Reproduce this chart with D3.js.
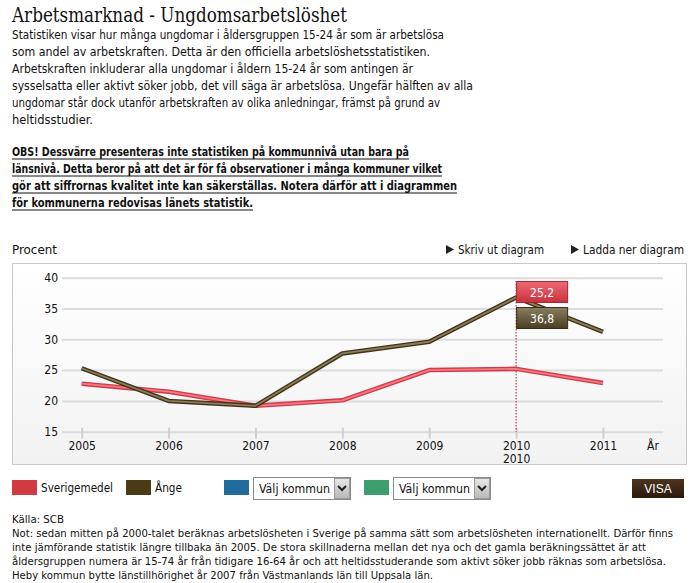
<!DOCTYPE html>
<html><head><meta charset="utf-8">
<script src="https://cdn.jsdelivr.net/npm/d3@7"></script>
<style>
html,body{margin:0;padding:0;background:#fff;}
svg{display:block;}
</style></head>
<body>
<script>
const years = [2005, 2006, 2007, 2008, 2009, 2010, 2011];
const sverigemedel = [22.8, 21.5, 19.2, 20.1, 25.0, 25.2, 22.9];
const ange = [25.3, 20.0, 19.2, 27.7, 29.6, 36.8, 31.2];
const yTicks = [15, 20, 25, 30, 35, 40];
const seriesNames = ["Sverigemedel", "Ånge"];
const selectedYear = 2010;

const title = "Arbetsmarknad - Ungdomsarbetslöshet";
const intro = [
  ["Statistiken visar hur många ungdomar i åldersgruppen 15-24 år som är arbetslösa", 432],
  ["som andel av arbetskraften. Detta är den officiella arbetslöshetsstatistiken.", 418],
  ["Arbetskraften inkluderar alla ungdomar i åldern 15-24 år som antingen är", 401],
  ["sysselsatta eller aktivt söker jobb, det vill säga är arbetslösa. Ungefär hälften av alla", 461],
  ["ungdomar står dock utanför arbetskraften av olika anledningar, främst på grund av", 428],
  ["heltidsstudier.", 81]
];
const obs = [
  ["OBS! Dessvärre presenteras inte statistiken på kommunnivå utan bara på", 397],
  ["länsnivå. Detta beror på att det är för få observationer i många kommuner vilket", 430],
  ["gör att siffrornas kvalitet inte kan säkerställas. Notera därför att i diagrammen", 445],
  ["för kommunerna redovisas länets statistik.", 241]
];
const footer = [
  ["Källa: SCB", 52],
  ["Not: sedan mitten på 2000-talet beräknas arbetslösheten i Sverige på samma sätt som arbetslösheten internationellt. Därför finns", 661],
  ["inte jämförande statistik längre tillbaka än 2005. De stora skillnaderna mellan det nya och det gamla beräkningssättet är att", 634],
  ["åldersgruppen numera är 15-74 år från tidigare 16-64 år och att heltidsstuderande som aktivt söker jobb räknas som arbetslösa.", 654],
  ["Heby kommun bytte länstillhörighet år 2007 från Västmanlands län till Uppsala län.", 421]
];

const W = 699, H = 583;
const svg = d3.select("body").append("svg").attr("width", W).attr("height", H);
const defs = svg.append("defs");
const bodyFont = "'DejaVu Sans Condensed','DejaVu Sans',sans-serif";

function grad(id, c1, c2) {
  const g = defs.append("linearGradient").attr("id", id).attr("x1", 0).attr("y1", 0).attr("x2", 0).attr("y2", 1);
  g.append("stop").attr("offset", "0%").attr("stop-color", c1);
  g.append("stop").attr("offset", "100%").attr("stop-color", c2);
}
grad("bgGrad", "#ffffff", "#f2f2f2");
grad("redGrad", "#ec6a74", "#c8323d");
grad("brownGrad", "#8a7e60", "#4a3d20");
grad("visaGrad", "#4c3420", "#2a1a0c");
grad("btnGrad", "#e8e8e8", "#b8b8b8");

// Title
svg.append("text").attr("x", 12).attr("y", 22)
  .attr("font-family", "'DejaVu Serif','Liberation Serif',serif").attr("font-size", 20)
  .attr("fill", "#111").attr("textLength", 335).attr("lengthAdjust", "spacingAndGlyphs")
  .text(title);

// Intro text
intro.forEach((l, i) => {
  svg.append("text").attr("x", 12).attr("y", 39 + i * 17)
    .attr("font-family", bodyFont).attr("font-size", 12).attr("fill", "#111")
    .attr("textLength", l[1]).attr("lengthAdjust", "spacingAndGlyphs").text(l[0]);
});
obs.forEach((l, i) => {
  const y = 156 + i * 17;
  svg.append("text").attr("x", 12).attr("y", y)
    .attr("font-family", bodyFont).attr("font-size", 12).attr("font-weight", "bold").attr("fill", "#111")
    .attr("textLength", l[1]).attr("lengthAdjust", "spacingAndGlyphs").text(l[0]);
  svg.append("line").attr("x1", 12).attr("x2", 12 + l[1]).attr("y1", y + 3).attr("y2", y + 3)
    .attr("stroke", "#111").attr("stroke-width", 1);
});

// Header row above chart
svg.append("text").attr("x", 12).attr("y", 254).attr("font-family", bodyFont).attr("font-size", 12)
  .attr("fill", "#111").attr("textLength", 45).attr("lengthAdjust", "spacingAndGlyphs").text("Procent");
[["Skriv ut diagram", 446, 86], ["Ladda ner diagram", 571, 101]].forEach(d => {
  svg.append("path").attr("d", `M${d[1]},${245} L${d[1] + 8},${249.5} L${d[1]},${254} Z`).attr("fill", "#222");
  svg.append("text").attr("x", d[1] + 12).attr("y", 254).attr("font-family", bodyFont).attr("font-size", 12)
    .attr("fill", "#111").attr("textLength", d[2]).attr("lengthAdjust", "spacingAndGlyphs").text(d[0]);
});

// Chart box
svg.append("rect").attr("x", 12.5).attr("y", 263.5).attr("width", 674).attr("height", 201)
  .attr("fill", "url(#bgGrad)").attr("stroke", "#c8c8c8");

const x = d3.scaleLinear().domain([2005, 2011]).range([81.7, 603]);
const y = d3.scaleLinear().domain([15, 40]).range([431.7, 277.7]);

// Gridlines
const yAxis = d3.axisLeft(y).tickValues(yTicks).tickSize(-(663 - 62)).tickPadding(6);
const gy = svg.append("g").attr("transform", "translate(62,0)").call(yAxis);
gy.select(".domain").remove();
gy.selectAll(".tick line").attr("stroke", "#dcdcdc").attr("stroke-width", 2);
gy.selectAll(".tick text").attr("font-family", bodyFont).attr("font-size", 12).attr("fill", "#111").attr("x", -4);

// X axis
const xAxis = d3.axisBottom(x).tickValues(years).tickFormat(d3.format("d")).tickSize(7).tickPadding(3);
const gx = svg.append("g").attr("transform", "translate(0,431.7)").call(xAxis);
gx.select(".domain").remove();
gx.selectAll(".tick line").attr("stroke", "#d0d0d0").attr("stroke-width", 2).attr("y1", -4);
gx.selectAll(".tick text").attr("font-family", bodyFont).attr("font-size", 12).attr("fill", "#111");
gx.selectAll(".tick").filter(d => d === selectedYear).append("text")
  .attr("y", 23).attr("dy", "0.71em").attr("text-anchor", "middle")
  .attr("font-family", bodyFont).attr("font-size", 12).attr("fill", "#111").text(selectedYear);
svg.append("text").attr("x", 647).attr("y", 450).attr("font-family", bodyFont).attr("font-size", 12)
  .attr("fill", "#111").text("År");

// Selected year marker
svg.append("line").attr("x1", x(selectedYear)).attr("x2", x(selectedYear)).attr("y1", 281).attr("y2", 431.7)
  .attr("stroke", "#a02030").attr("stroke-width", 1).attr("stroke-dasharray", "1.5,1.5");

// Lines
const line = d3.line().x((d, i) => x(years[i])).y(d => y(d));
function drawSeries(data, outer, inner) {
  svg.append("path").datum(data).attr("d", line).attr("fill", "none")
    .attr("stroke", outer).attr("stroke-width", 4.5).attr("stroke-linejoin", "round");
  svg.append("path").datum(data).attr("d", line).attr("fill", "none")
    .attr("stroke", inner).attr("stroke-width", 1.8).attr("stroke-linejoin", "round");
}
drawSeries(sverigemedel, "#d23a47", "#f07a85");
drawSeries(ange, "#3f321a", "#8c7c58");

// Tooltips
const idx = years.indexOf(selectedYear);
const fmt = v => d3.format(".1f")(v).replace(".", ",");
[[sverigemedel[idx], "url(#redGrad)", "#b0242f", 281], [ange[idx], "url(#brownGrad)", "#3a2f18", 307]].forEach(t => {
  const bx = x(selectedYear);
  svg.append("rect").attr("x", bx + 0.5).attr("y", t[3] + 0.5).attr("width", 51).attr("height", 21)
    .attr("fill", t[1]).attr("stroke", t[2]);
  svg.append("text").attr("x", bx + 26).attr("y", t[3] + 15.5).attr("text-anchor", "middle")
    .attr("font-family", bodyFont).attr("font-size", 12).attr("fill", "#fff").text(fmt(t[0]));
});

// Legend
const legendColors = ["#d23a43", "#4a3a16", "#1f6b9c", "#3c9e6a"];
[[12, 0, "Sverigemedel", 72], [126, 1, "Ånge", 27]].forEach(l => {
  svg.append("rect").attr("x", l[0]).attr("y", 480).attr("width", 25).attr("height", 15).attr("fill", legendColors[l[1]]);
  svg.append("text").attr("x", l[0] + 29).attr("y", 492).attr("font-family", bodyFont).attr("font-size", 12)
    .attr("fill", "#111").attr("textLength", l[3]).attr("lengthAdjust", "spacingAndGlyphs").text(seriesNames[l[1]]);
});
[[224, 2], [364, 3]].forEach(s => {
  svg.append("rect").attr("x", s[0]).attr("y", 480).attr("width", 25).attr("height", 15).attr("fill", legendColors[s[1]]);
  const sx = s[0] + 29;
  svg.append("rect").attr("x", sx + 0.5).attr("y", 477.5).attr("width", 97).attr("height", 22)
    .attr("fill", "#fff").attr("stroke", "#8a8a8a");
  svg.append("text").attr("x", sx + 6).attr("y", 493).attr("font-family", bodyFont).attr("font-size", 12)
    .attr("fill", "#111").attr("textLength", 71).attr("lengthAdjust", "spacingAndGlyphs").text("Välj kommun");
  svg.append("rect").attr("x", sx + 81.5).attr("y", 478.5).attr("width", 15).attr("height", 20)
    .attr("fill", "url(#btnGrad)").attr("stroke", "#9a9a9a");
  svg.append("path").attr("d", `M${sx + 85},${486} L${sx + 89},${490} L${sx + 93},${486}`)
    .attr("fill", "none").attr("stroke", "#222").attr("stroke-width", 2);
});
svg.append("rect").attr("x", 632).attr("y", 479).attr("width", 52).attr("height", 19).attr("fill", "url(#visaGrad)");
svg.append("text").attr("x", 658).attr("y", 493).attr("text-anchor", "middle").attr("font-family", "'Liberation Sans',Arial,sans-serif")
  .attr("font-size", 12).attr("fill", "#fff").text("VISA");

// Footer
footer.forEach((l, i) => {
  svg.append("text").attr("x", 12).attr("y", 523 + i * 14)
    .attr("font-family", bodyFont).attr("font-size", 11).attr("fill", "#111")
    .attr("textLength", l[1]).attr("lengthAdjust", "spacingAndGlyphs").text(l[0]);
});
</script>
</body></html>
